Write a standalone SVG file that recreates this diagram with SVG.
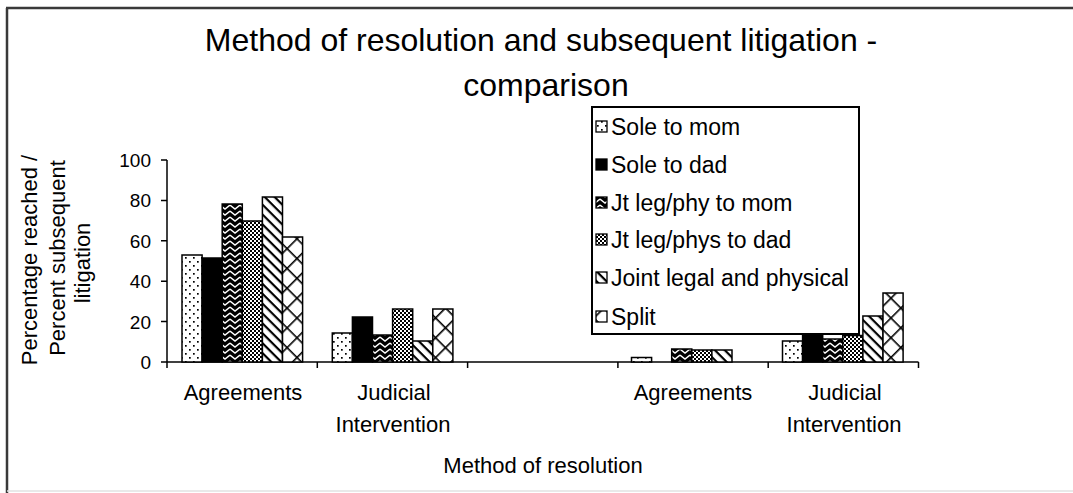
<svg xmlns="http://www.w3.org/2000/svg" width="1073" height="493" viewBox="0 0 1073 493">
<style>
text{font-family:"Liberation Sans",Arial,sans-serif;fill:#000}
.t{font-size:32px;text-anchor:middle}
.l{font-size:23px}
.c{font-size:22px;text-anchor:middle}
.y{font-size:19px;text-anchor:end}
.bar{stroke:#000;stroke-width:1.5}
.ax{stroke:#000;stroke-width:1.5;fill:none}
</style>
<defs>
<pattern id="pDots" width="8" height="8" patternUnits="userSpaceOnUse"><rect width="8" height="8" fill="#fff"/><rect x="1" y="1" width="1.7" height="1.7" fill="#000"/><rect x="5" y="5" width="1.7" height="1.7" fill="#000"/></pattern>
<pattern id="pZig" width="10" height="6" patternUnits="userSpaceOnUse"><rect width="10" height="6" fill="#000"/><path d="M0,1 L5,5 L10,1" stroke="#fff" stroke-width="1.4" fill="none"/></pattern>
<pattern id="pChk" width="4" height="4" patternUnits="userSpaceOnUse"><rect width="4" height="4" fill="#fff"/><rect width="2" height="2" fill="#000"/><rect x="2" y="2" width="2" height="2" fill="#000"/></pattern>
<pattern id="pDiag" width="7" height="7" patternUnits="userSpaceOnUse" patternTransform="rotate(45)"><rect width="7" height="7" fill="#fff"/><rect width="7" height="2.2" fill="#000"/></pattern>
<pattern id="pX" width="14" height="14" patternUnits="userSpaceOnUse" patternTransform="rotate(45)"><rect width="14" height="14" fill="#fff"/><rect width="14" height="1.6" fill="#000"/><rect width="1.6" height="14" fill="#000"/></pattern>
</defs>
<rect width="1073" height="493" fill="#fff"/>
<g id="frame">
<line x1="6" y1="8" x2="1073" y2="8" stroke="#3a3a3a" stroke-width="2.5"/>
<line x1="7" y1="8" x2="7" y2="493" stroke="#3a3a3a" stroke-width="2.5"/>
<line x1="7" y1="491" x2="1073" y2="491" stroke="#e2e2e2" stroke-width="1.5"/>
</g>
<g id="title">
<text class="t" x="541" y="51">Method of resolution and subsequent litigation -</text>
<text class="t" x="546" y="96">comparison</text>
</g>
<g id="axes">
<line class="ax" x1="167" y1="160" x2="167" y2="368"/>
<line class="ax" x1="161" y1="362" x2="918.5" y2="362"/>
<path class="ax" d="M161,160H167M161,200.4H167M161,240.8H167M161,281.2H167M161,321.6H167"/>
<path class="ax" d="M317.3,362V368M467.6,362V368M617.9,362V368M768.2,362V368M918.5,362V368"/>
<text class="y" x="151" y="167">100</text>
<text class="y" x="151" y="207">80</text>
<text class="y" x="151" y="248">60</text>
<text class="y" x="151" y="288">40</text>
<text class="y" x="151" y="329">20</text>
<text class="y" x="151" y="369">0</text>
<g transform="translate(37,260) rotate(-90)"><text class="c" x="0" y="0">Percentage reached /</text></g>
<g transform="translate(65,258) rotate(-90)"><text class="c" x="0" y="0">Percent subsequent</text></g>
<g transform="translate(90,263) rotate(-90)"><text class="c" x="0" y="0">litigation</text></g>
</g>
<g id="series-sole-mom">
<rect class="bar" fill="url(#pDots)" x="182" y="255" width="20.1" height="107"/>
<rect class="bar" fill="url(#pDots)" x="332.3" y="333" width="20.1" height="29"/>
<rect class="bar" fill="url(#pDots)" x="631.5" y="357.5" width="20.1" height="4.5"/>
<rect class="bar" fill="url(#pDots)" x="782.5" y="341" width="20.1" height="21"/>
</g>
<g id="series-sole-dad">
<rect class="bar" fill="#000" x="202.1" y="258" width="20.1" height="104"/>
<rect class="bar" fill="#000" x="352.4" y="317" width="20.1" height="45"/>
<rect class="bar" fill="#000" x="802.6" y="330" width="20.1" height="32"/>
</g>
<g id="series-jt-mom">
<rect class="bar" fill="url(#pZig)" x="222.2" y="204" width="20.1" height="158"/>
<rect class="bar" fill="url(#pZig)" x="372.5" y="335" width="20.1" height="27"/>
<rect class="bar" fill="url(#pZig)" x="671.7" y="349" width="20.1" height="13"/>
<rect class="bar" fill="url(#pZig)" x="822.7" y="339" width="20.1" height="23"/>
</g>
<g id="series-jt-dad">
<rect class="bar" fill="url(#pChk)" x="242.3" y="221" width="20.1" height="141"/>
<rect class="bar" fill="url(#pChk)" x="392.6" y="309" width="20.1" height="53"/>
<rect class="bar" fill="url(#pChk)" x="691.8" y="350" width="20.1" height="12"/>
<rect class="bar" fill="url(#pChk)" x="842.8" y="335.5" width="20.1" height="26.5"/>
</g>
<g id="series-joint">
<rect class="bar" fill="url(#pDiag)" x="262.4" y="197" width="20.1" height="165"/>
<rect class="bar" fill="url(#pDiag)" x="412.7" y="341" width="20.1" height="21"/>
<rect class="bar" fill="url(#pDiag)" x="711.9" y="350" width="20.1" height="12"/>
<rect class="bar" fill="url(#pDiag)" x="862.9" y="316" width="20.1" height="46"/>
</g>
<g id="series-split">
<rect class="bar" fill="url(#pX)" x="282.5" y="237" width="20.1" height="125"/>
<rect class="bar" fill="url(#pX)" x="432.8" y="309" width="20.1" height="53"/>
<rect class="bar" fill="url(#pX)" x="883" y="293" width="20.1" height="69"/>
</g>
<g id="category-labels">
<text class="c" x="243" y="400">Agreements</text>
<text class="c" x="394" y="400">Judicial</text>
<text class="c" x="393" y="432">Intervention</text>
<text class="c" x="693" y="400">Agreements</text>
<text class="c" x="845" y="400">Judicial</text>
<text class="c" x="844" y="432">Intervention</text>
<text class="c" x="543" y="473">Method of resolution</text>
</g>
<g id="legend">
<rect x="592" y="107" width="267" height="227" fill="#fff" stroke="#000" stroke-width="2"/>
<rect x="596" y="121" width="11" height="11" fill="url(#pDots)" stroke="#000" stroke-width="1.3"/>
<text class="l" x="611" y="135">Sole to mom</text>
<rect x="596" y="159" width="11" height="11" fill="#000" stroke="#000" stroke-width="1.3"/>
<text class="l" x="611" y="173">Sole to dad</text>
<rect x="596" y="197" width="11" height="11" fill="url(#pZig)" stroke="#000" stroke-width="1.3"/>
<text class="l" x="611" y="211">Jt leg/phy to mom</text>
<rect x="596" y="234" width="11" height="11" fill="url(#pChk)" stroke="#000" stroke-width="1.3"/>
<text class="l" x="611" y="248">Jt leg/phys to dad</text>
<rect x="596" y="272" width="11" height="11" fill="url(#pDiag)" stroke="#000" stroke-width="1.3"/>
<text class="l" x="611" y="286">Joint legal and physical</text>
<rect x="596" y="311" width="11" height="11" fill="url(#pX)" stroke="#000" stroke-width="1.3"/>
<text class="l" x="611" y="325">Split</text>
</g>
</svg>
